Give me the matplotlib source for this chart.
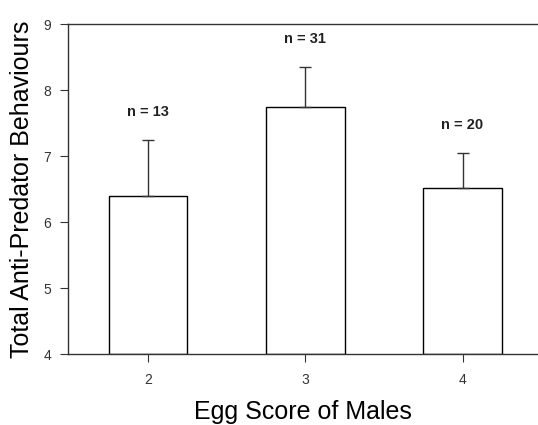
import matplotlib
matplotlib.use("Agg")
import matplotlib.pyplot as plt

categories = [2, 3, 4]
means = [6.39, 7.75, 6.51]
errors = [0.85, 0.60, 0.54]
n_labels = ["n = 13", "n = 31", "n = 20"]

plt.rcParams['font.family'] = ['Liberation Sans', 'DejaVu Sans']

fig = plt.figure(figsize=(5.38, 4.25), dpi=100)
ax = fig.add_axes([0.1264, 0.167, 0.8736, 0.7765])

ax.bar(categories, [m - 4 for m in means], bottom=4, width=0.5,
       color='white', edgecolor='black', linewidth=1.0, zorder=2)
ax.errorbar(categories, means, yerr=[[0, 0, 0], errors], fmt='none',
            ecolor='#333333', elinewidth=1.0, capsize=4, capthick=1.0, zorder=3)
for x, m, e, lab in zip(categories, means, errors, n_labels):
    ax.text(x, m + e + 0.42, lab, ha='center', va='center',
            fontsize=10.5, fontweight='bold', color='#222222')

ax.set_xlim(1.49, 4.48)
ax.set_ylim(4, 9)
ax.set_xticks(categories)
ax.set_yticks([4, 5, 6, 7, 8, 9])
ax.spines['right'].set_visible(False)
for s in ['left', 'top', 'bottom']:
    ax.spines[s].set_linewidth(1.0)
    ax.spines[s].set_color('#333333')
ax.tick_params(axis='both', direction='out', length=6, width=0.8,
               labelsize=10, colors='#333333')
ax.tick_params(axis='x', pad=8)
ax.tick_params(axis='y', pad=6)

ax.set_xlabel('Egg Score of Males', fontsize=18, labelpad=9)
ax.set_ylabel('Total Anti-Predator Behaviours', fontsize=18, labelpad=7)

fig.savefig('out.png', dpi=100)
